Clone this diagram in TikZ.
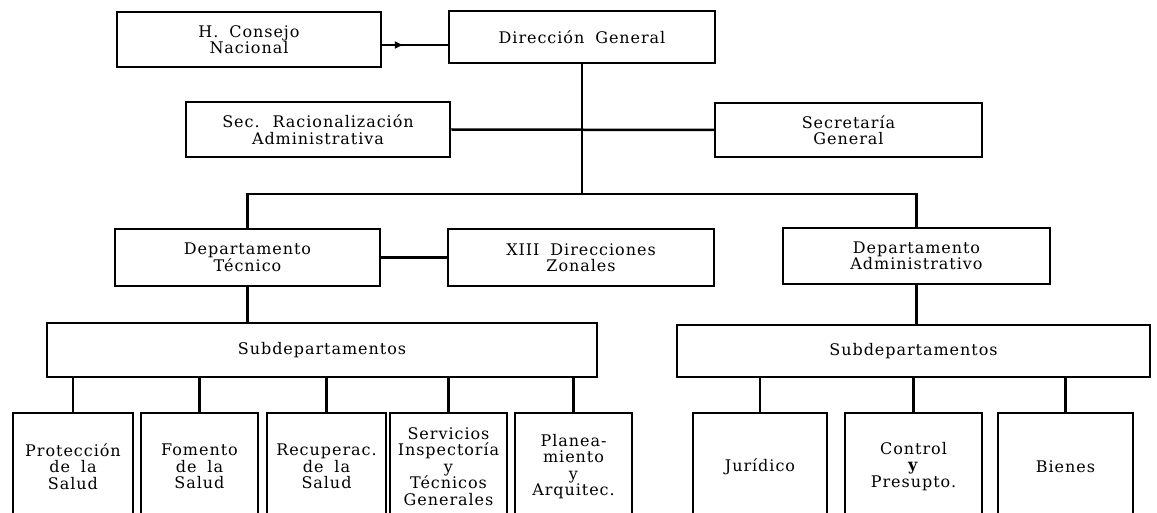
\documentclass[tikz,border=0pt]{standalone}
\usepackage{fontspec}
\setmainfont{DejaVu Serif}[LetterSpace=6,WordSpace=1.8]
\usetikzlibrary{decorations.markings,arrows.meta}
\begin{document}
\begin{tikzpicture}[x=1pt,y=-1pt,
  box/.style={draw, line width=2.5pt, inner sep=0pt, align=center,
    font=\fontsize{16}{16.5}\selectfont},
  low/.style={box, minimum height=107pt},
  conn/.style={line width=2.5pt},
]
\useasboundingbox (0,0) rectangle (1157,513);
\clip (0,0) rectangle (1157,513);
% top level
\node[box, minimum width=264pt, minimum height=55pt] (consejo) at (249,39.5) {H. Consejo\\Nacional};
\node[box, minimum width=266pt, minimum height=52pt] (dirgen) at (582,37) {Dirección General};
\node[box, minimum width=264pt, minimum height=55pt] (secrac) at (318,129.5) {Sec. Racionalización\\Administrativa};
\node[box, minimum width=267pt, minimum height=54pt] (secgen) at (848.5,130) {Secretaría\\General};
% departments
\node[box, minimum width=265pt, minimum height=57pt] (dtec) at (247.5,257.5) {Departamento\\Técnico};
\node[box, minimum width=266pt, minimum height=57pt] (xiii) at (581,257.5) {XIII Direcciones\\Zonales};
\node[box, minimum width=267pt, minimum height=56pt] (dadm) at (916.5,256) {Departamento\\Administrativo};
% subdepartments
\node[box, minimum width=550pt, minimum height=54pt] (sub1) at (322,350) {Subdepartamentos};
\node[box, minimum width=473pt, minimum height=52pt] (sub2) at (913.5,351) {Subdepartamentos};
% bottom row
\node[low, minimum width=120pt] (b1) at (73,466.5) {Protección\\de la\\Salud};
\node[low, minimum width=117pt] (b2) at (199.5,466.5) {Fomento\\de la\\Salud};
\node[low, minimum width=119pt] (b3) at (326.5,466.5) {Recuperac.\\de la\\Salud};
\node[low, minimum width=117pt] (b4) at (448.5,466.5) {Servicios\\Inspectoría\\y\\Técnicos\\Generales};
\node[low, minimum width=117pt] (b5) at (573.5,466.5) {Planea-\\miento\\y\\Arquitec.};
\node[low, minimum width=134pt] (b6) at (760,466.5) {Jurídico};
\node[low, minimum width=137pt] (b7) at (913.5,466.5) {Control\\\textbf{y}\\Presupto.};
\node[low, minimum width=135pt] (b8) at (1065.5,466.5) {Bienes};
% connectors
\draw[conn, postaction={decorate},
  decoration={markings, mark=at position 0.33 with {\arrow{Latex[length=9pt,width=8pt]}}}]
  ([yshift=-5.5pt]consejo.east) -- ([yshift=-5.5pt]consejo.east -| dirgen.west);
\coordinate (jn) at (582,194);
\draw[conn] (dirgen.south) -- (jn);
\draw[conn] (secrac.east) -- (secgen.west);
\draw[conn] (dtec.north) -- (dtec.north |- jn) -- (dadm.north |- jn) -- (dadm.north);
\draw[conn] (dtec.east) -- (xiii.west);
\draw[conn] (dtec.south) -- (dtec.south |- sub1.north);
\draw[conn] (dadm.south) -- (dadm.south |- sub2.north);
\foreach \b in {b1,b2,b3,b4,b5} \draw[conn] (\b.north |- sub1.south) -- (\b.north);
\foreach \b in {b6,b7,b8} \draw[conn] (\b.north |- sub2.south) -- (\b.north);
\end{tikzpicture}
\end{document}
